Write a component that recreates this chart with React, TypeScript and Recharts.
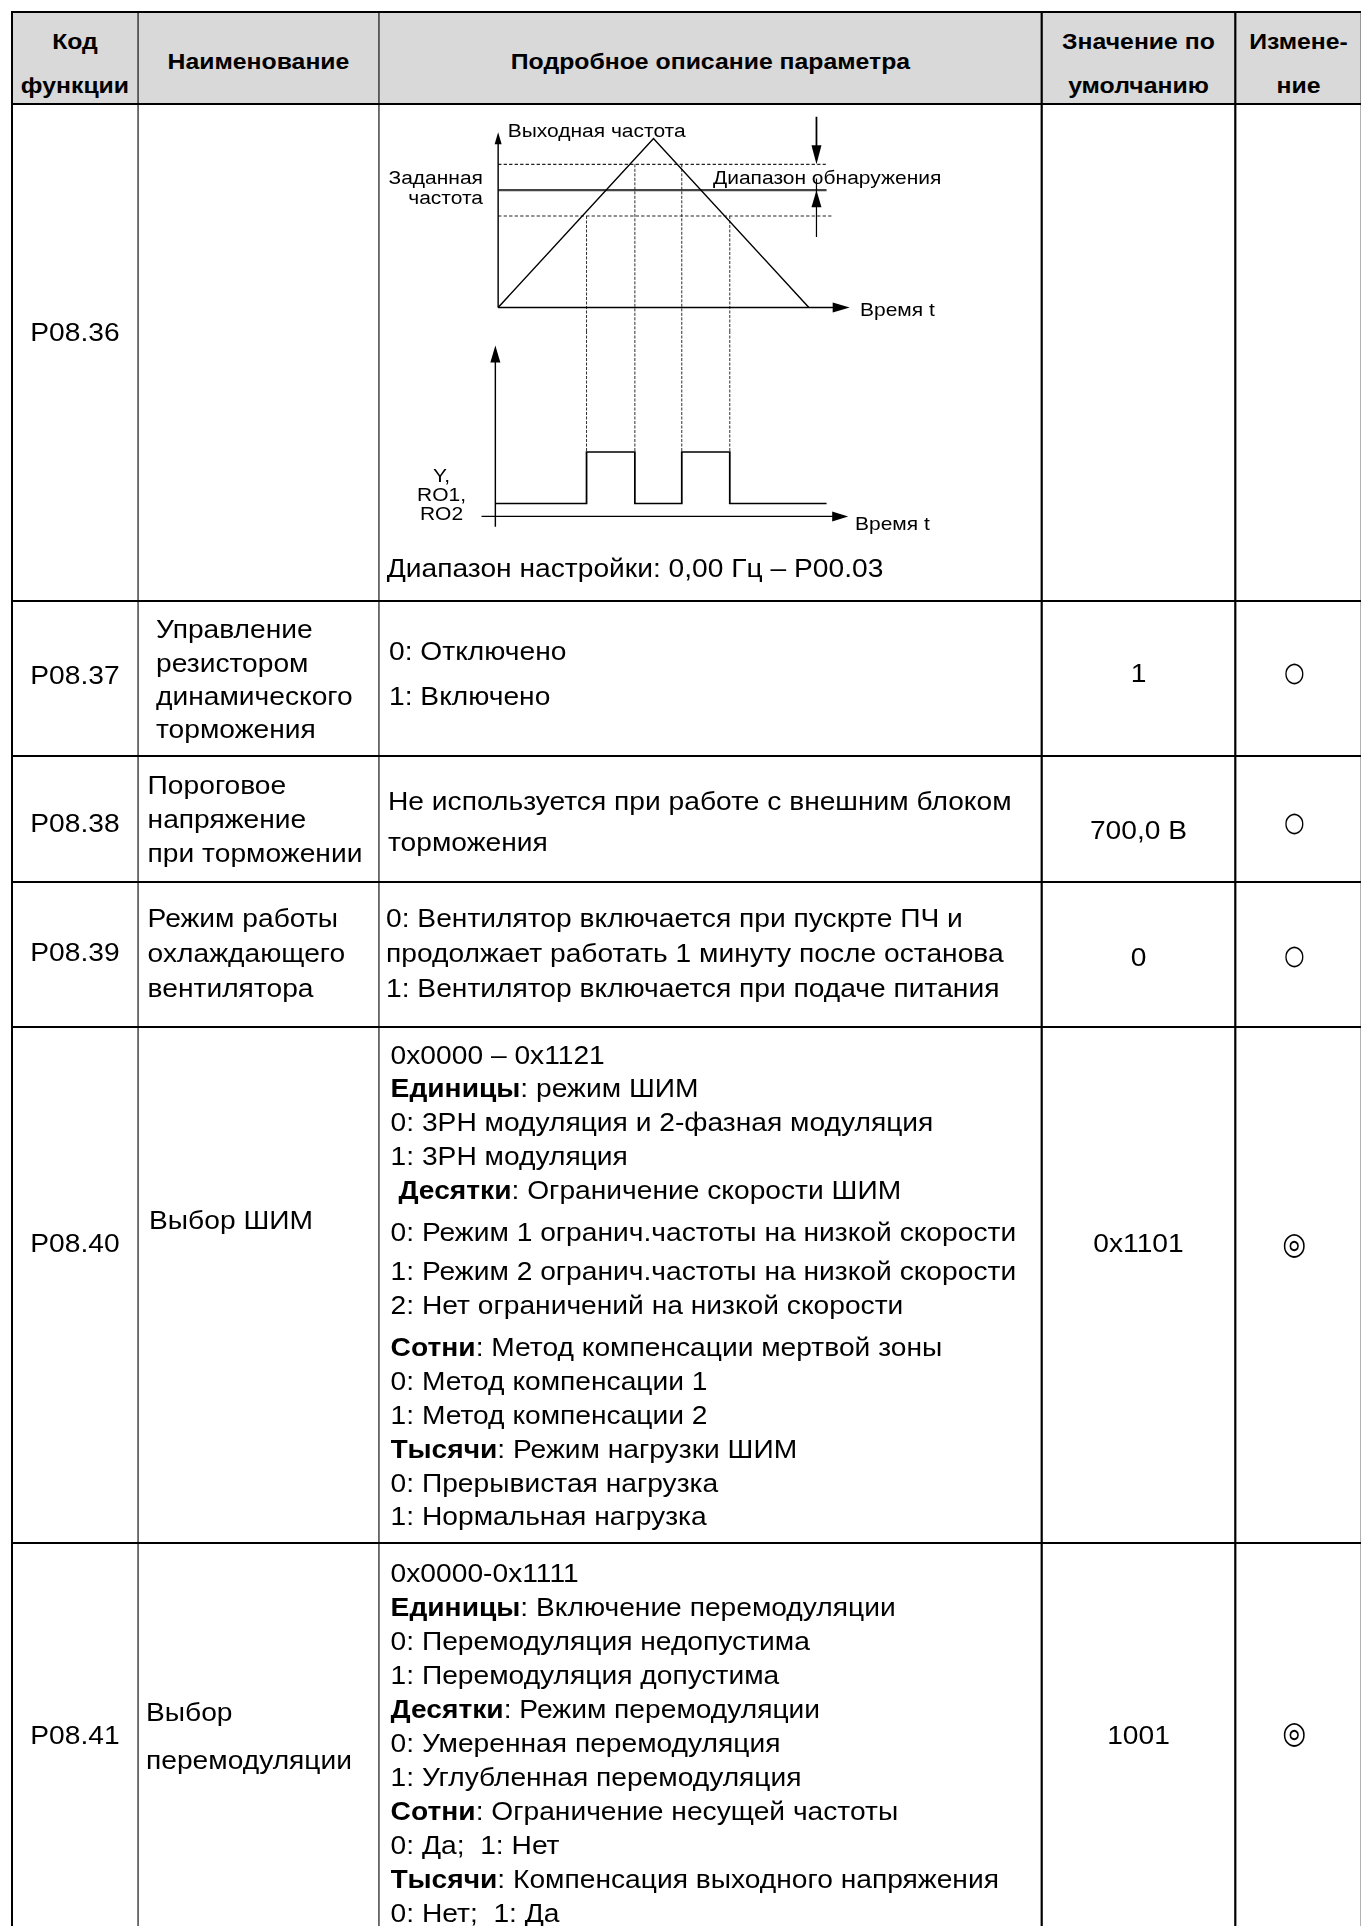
import { LineChart, Line, XAxis, YAxis, ReferenceLine, ReferenceDot } from 'recharts';

// the reference page is a little stretched sideways, so the page is drawn
// narrower and scaled back out. u() turns a reference x into a layout x.
const SX = 1.1;
const u = (x: number) => x / SX;
const FONT = '"Liberation Sans", Arial, Helvetica, sans-serif';
// font sizes are given by the width they take in the reference
const BODY = 28.2 / SX;
const SMALL = 21 / SX;
const HEAD = 24.8 / SX;

// ---- diagram values: time in s, frequency in Hz, output level 0.25 = off, 1.25 = on
const rampT = [0, 10, 20];
const rampF = [0, 72, 0];
const SET_F = 50;
const DETECT_HI = 61;
const DETECT_LO = 39;
const crossT = [5.69, 8.8, 11.82, 14.91];
const crossF = [DETECT_LO, DETECT_HI, DETECT_HI, DETECT_LO];
const pulseT = [-0.18, 5.69, 5.69, 8.8, 8.8, 11.82, 11.82, 14.91, 14.91, 21.14];
const pulseV = [0.25, 0.25, 1.25, 1.25, 0.25, 0.25, 1.25, 1.25, 0.25, 0.25];

const rampData = rampT.map((t, i) => ({ t, f: rampF[i] }));
const pulseData = pulseT.map((t, i) => ({ t, v: pulseV[i] }));

// ---- table text
const headers = [['Код', 'функции'], ['Наименование'], ['Подробное описание параметра'], ['Значение по', 'умолчанию'], ['Измене-', 'ние']];
const codes = ['P08.36', 'P08.37', 'P08.38', 'P08.39', 'P08.40', 'P08.41'];
const names = [
  [],
  ['Управление', 'резистором', 'динамического', 'торможения'],
  ['Пороговое', 'напряжение', 'при торможении'],
  ['Режим работы', 'охлаждающего', 'вентилятора'],
  ['Выбор ШИМ'],
  ['Выбор', 'перемодуляции'],
];
const defaults = ['', '1', '700,0 В', '0', '0x1101', '1001'];
const changes = ['', '○', '○', '○', '◎', '◎'];
const descriptions = [
  ['Диапазон настройки: 0,00 Гц – P00.03'],
  ['0: Отключено', '1: Включено'],
  ['Не используется при работе с внешним блоком', 'торможения'],
  ['0: Вентилятор включается при пускрте ПЧ и', 'продолжает работать 1 минуту после останова', '1: Вентилятор включается при подаче питания'],
  [
    '0x0000 – 0x1121',
    '**Единицы**: режим ШИМ',
    '0: 3PH модуляция и 2-фазная модуляция',
    '1: 3PH модуляция',
    ' **Десятки**: Ограничение скорости ШИМ',
    '0: Режим 1 огранич.частоты на низкой скорости',
    '1: Режим 2 огранич.частоты на низкой скорости',
    '2: Нет ограничений на низкой скорости',
    '**Сотни**: Метод компенсации мертвой зоны',
    '0: Метод компенсации 1',
    '1: Метод компенсации 2',
    '**Тысячи**: Режим нагрузки ШИМ',
    '0: Прерывистая нагрузка',
    '1: Нормальная нагрузка',
  ],
  [
    '0x0000-0x1111',
    '**Единицы**: Включение перемодуляции',
    '0: Перемодуляция недопустима',
    '1: Перемодуляция допустима',
    '**Десятки**: Режим перемодуляции',
    '0: Умеренная перемодуляция',
    '1: Углубленная перемодуляция',
    '**Сотни**: Ограничение несущей частоты',
    '0: Да;  1: Нет',
    '**Тысячи**: Компенсация выходного напряжения',
    '0: Нет;  1: Да',
  ],
];

// ---- layout (reference pixels)
const colX = [12, 138, 379, 1042, 1235, 1362];
const rowY = [12, 104, 601, 756, 882, 1027, 1543];
const layout = [
  { code: 331.6, name: [0, 34, 148], desc: [568, 34, 386.7], gaps: {}, val: 0, mark: 0 },
  { code: 675, name: [630, 33.3, 156], desc: [651.7, 45, 389], gaps: {}, val: 673, mark: 671.7 },
  { code: 823, name: [785, 34, 147.6], desc: [801.7, 41.3, 388], gaps: {}, val: 830, mark: 821.7 },
  { code: 952, name: [918.3, 35, 147.6], desc: [918, 35, 386], gaps: {}, val: 956.7, mark: 955 },
  { code: 1243, name: [1219.7, 34, 149], desc: [1055.5, 33.8, 390.6], gaps: { 5: 8.6, 6: 5.2, 8: 8.6 } as Record<number, number>, val: 1243, mark: 1243 },
  { code: 1735, name: [1711.7, 48.3, 146], desc: [1573, 34, 390.6], gaps: {}, val: 1735, mark: 1731.7 },
];

const rich = (s: string) => s.split('**').map((p, i) => (i % 2 ? <b key={i}>{p}</b> : p));

function Txt({ x, cy, lh = 34, size = BODY, bold = false, w, align = 'left', children }: any) {
  return (
    <div
      style={{
        position: 'absolute',
        left: u(x),
        top: cy - lh / 2,
        height: lh,
        lineHeight: `${lh}px`,
        width: w !== undefined ? u(w) : undefined,
        textAlign: align,
        fontSize: size,
        fontWeight: bold ? 700 : 400,
        whiteSpace: 'pre',
      }}
    >
      {children}
    </div>
  );
}

// arrow heads drawn at a data point; len/half in reference pixels
const head = (dir: string, len: number, half: number) => (props: any) => {
  const { cx, cy } = props;
  let pts = '';
  if (dir === 'up') pts = `${cx},${cy} ${cx - u(half)},${cy + len} ${cx + u(half)},${cy + len}`;
  if (dir === 'down') pts = `${cx},${cy} ${cx - u(half)},${cy - len} ${cx + u(half)},${cy - len}`;
  if (dir === 'right') pts = `${cx},${cy} ${cx - u(len)},${cy - half} ${cx - u(len)},${cy + half}`;
  return <polygon points={pts} fill="#000" />;
};

const NO_MARGIN = { top: 0, right: 0, bottom: 0, left: 0 };
const T_DOMAIN: [number, number] = [-7, 35];
const CHART_LEFT = 389.6;
const CHART_W = 652.5;

function FrequencyChart() {
  return (
    <div style={{ position: 'absolute', left: u(CHART_LEFT), top: 107.5 }}>
      <LineChart width={u(CHART_W)} height={223} data={rampData} margin={NO_MARGIN}>
        <XAxis type="number" dataKey="t" domain={T_DOMAIN} hide allowDataOverflow />
        <YAxis type="number" domain={[-10, 85]} hide allowDataOverflow />
        <ReferenceLine ifOverflow="visible" segment={[{ x: 0, y: DETECT_HI }, { x: 21.09, y: DETECT_HI }]} stroke="#222" strokeWidth={1.2} strokeDasharray="3 2" />
        <ReferenceLine ifOverflow="visible" segment={[{ x: 0, y: SET_F }, { x: 21.14, y: SET_F }]} stroke="#444" strokeWidth={2.4} />
        <ReferenceLine ifOverflow="visible" segment={[{ x: 0, y: DETECT_LO }, { x: 21.6, y: DETECT_LO }]} stroke="#222" strokeWidth={1.2} strokeDasharray="3 2" />
        {crossT.map((t, i) => (
          <ReferenceLine key={i} ifOverflow="visible" segment={[{ x: t, y: crossF[i] }, { x: t, y: -10 }]} stroke="#222" strokeWidth={0.9} strokeDasharray="3 1.5" />
        ))}
        <ReferenceLine ifOverflow="visible" segment={[{ x: 0, y: 0 }, { x: 21.6, y: 0 }]} stroke="#000" strokeWidth={1.6} />
        <ReferenceLine ifOverflow="visible" segment={[{ x: 0, y: 0 }, { x: 0, y: 71 }]} stroke="#000" strokeWidth={1.3} />
        <ReferenceLine ifOverflow="visible" segment={[{ x: 20.49, y: 81.3 }, { x: 20.49, y: 66 }]} stroke="#000" strokeWidth={1.6} />
        <ReferenceLine ifOverflow="visible" segment={[{ x: 20.49, y: 30 }, { x: 20.49, y: 55 }]} stroke="#000" strokeWidth={1.1} />
        <ReferenceDot ifOverflow="visible" x={0} y={74.7} r={1} shape={head('up', 12, 3.5)} />
        <ReferenceDot ifOverflow="visible" x={22.63} y={0} r={1} shape={head('right', 17, 5)} />
        <ReferenceDot ifOverflow="visible" x={20.49} y={DETECT_HI} r={1} shape={head('down', 19, 5)} />
        <ReferenceDot ifOverflow="visible" x={20.49} y={SET_F} r={1} shape={head('up', 17, 5)} />
        <Line type="linear" dataKey="f" stroke="#000" strokeWidth={1.3} dot={false} activeDot={false} isAnimationActive={false} />
      </LineChart>
    </div>
  );
}

function OutputChart() {
  return (
    <div style={{ position: 'absolute', left: u(CHART_LEFT), top: 330.5 }}>
      <LineChart width={u(CHART_W)} height={206} data={pulseData} margin={NO_MARGIN}>
        <XAxis type="number" dataKey="t" domain={T_DOMAIN} hide allowDataOverflow />
        <YAxis type="number" domain={[-0.4, 3.6]} hide allowDataOverflow />
        {crossT.map((t, i) => (
          <ReferenceLine key={i} ifOverflow="visible" segment={[{ x: t, y: 3.6 }, { x: t, y: 1.25 }]} stroke="#222" strokeWidth={0.9} strokeDasharray="3 1.5" />
        ))}
        <ReferenceLine ifOverflow="visible" segment={[{ x: -1.07, y: 0 }, { x: 21.6, y: 0 }]} stroke="#000" strokeWidth={1.4} />
        <ReferenceLine ifOverflow="visible" segment={[{ x: -0.18, y: -0.2 }, { x: -0.18, y: 3.0 }]} stroke="#000" strokeWidth={1.3} />
        <ReferenceDot ifOverflow="visible" x={-0.18} y={3.32} r={1} shape={head('up', 17, 5)} />
        <ReferenceDot ifOverflow="visible" x={22.53} y={0} r={1} shape={head('right', 16, 5)} />
        <Line type="linear" dataKey="v" stroke="#000" strokeWidth={1.6} dot={false} activeDot={false} isAnimationActive={false} />
      </LineChart>
    </div>
  );
}

export default function App() {
  const lineColor = '#000';
  return (
    <div style={{ position: 'absolute', left: 0, top: 0, width: 1361, height: 1926, overflow: 'hidden', background: '#fff' }}>
      <div
        style={{
          position: 'relative',
          width: u(1361),
          height: 1926,
          transform: `scaleX(${SX})`,
          transformOrigin: '0 0',
          fontFamily: FONT,
          color: '#000',
        }}
      >
        {/* header shading */}
        <div style={{ position: 'absolute', left: u(colX[0]), top: rowY[0], width: u(colX[5] - colX[0]), height: rowY[1] - rowY[0], background: '#d9d9d9' }} />

        {/* header captions */}
        {headers.map((h, c) => {
          const lh = 44.3;
          const cy = h.length > 1 ? 41.7 : 62.5;
          return h.map((t, k) => (
            <Txt key={`h${c}${k}`} x={colX[c]} w={colX[c + 1] - colX[c]} align="center" cy={cy + k * lh} lh={lh} size={HEAD} bold>
              {t}
            </Txt>
          ));
        })}

        {/* diagram of P08.36 */}
        <FrequencyChart />
        <OutputChart />
        <Txt x={507.7} cy={130.7} lh={22} size={SMALL}>Выходная частота</Txt>
        <div style={{ position: 'absolute', left: u(372), width: u(111), top: 168.3, lineHeight: '20px', fontSize: SMALL, textAlign: 'right' }}>
          Заданная
          <br />
          частота
        </div>
        <Txt x={713} cy={178.3} lh={22} size={SMALL}>Диапазон обнаружения</Txt>
        <Txt x={860} cy={310} lh={22} size={SMALL}>Время t</Txt>
        <div style={{ position: 'absolute', left: u(400), width: u(83), top: 465.5, lineHeight: '19px', fontSize: SMALL, textAlign: 'center' }}>
          Y,
          <br />
          RO1,
          <br />
          RO2
        </div>
        <Txt x={855} cy={524} lh={22} size={SMALL}>Время t</Txt>

        {/* body rows */}
        {codes.map((code, r) => {
          const L = layout[r];
          const [nY, nLh, nX] = L.name;
          const [dY, dLh, dX] = L.desc;
          let extra = 0;
          return (
            <div key={code}>
              <Txt x={colX[0]} w={colX[1] - colX[0]} align="center" cy={L.code}>
                {code}
              </Txt>
              {names[r].map((t, k) => (
                <Txt key={`n${k}`} x={nX} cy={nY + k * nLh} lh={nLh}>
                  {t}
                </Txt>
              ))}
              {descriptions[r].map((t, k) => {
                extra += (L.gaps as Record<number, number>)[k] || 0;
                return (
                  <Txt key={`d${k}`} x={dX} cy={dY + k * dLh + extra} lh={dLh}>
                    {rich(t)}
                  </Txt>
                );
              })}
              {defaults[r] && (
                <Txt x={colX[3]} w={colX[4] - colX[3]} align="center" cy={L.val}>
                  {defaults[r]}
                </Txt>
              )}
              {changes[r] && (
                <Txt x={colX[4]} w={colX[5] - colX[4] - 8} align="center" cy={L.mark}>
                  <span
                    style={{
                      display: 'inline-block',
                      fontFamily: '"DejaVu Sans", sans-serif',
                      fontSize: changes[r] === '◎' ? 31 : 27,
                      transform: 'scaleX(0.8)',
                    }}
                  >
                    {changes[r]}
                  </span>
                </Txt>
              )}
            </div>
          );
        })}

        {/* rules */}
        {rowY.map((y, i) => (
          <div key={`hr${i}`} style={{ position: 'absolute', left: u(colX[0] - 1), top: y - 1, width: u(colX[5] - colX[0] + 2), height: 2, background: lineColor }} />
        ))}
        {colX.map((x, i) => (
          <div key={`vr${i}`} style={{ position: 'absolute', left: u(x - 1), top: rowY[0] - 1, width: u(2), height: 1926 - rowY[0] + 1, background: lineColor }} />
        ))}
      </div>
    </div>
  );
}
